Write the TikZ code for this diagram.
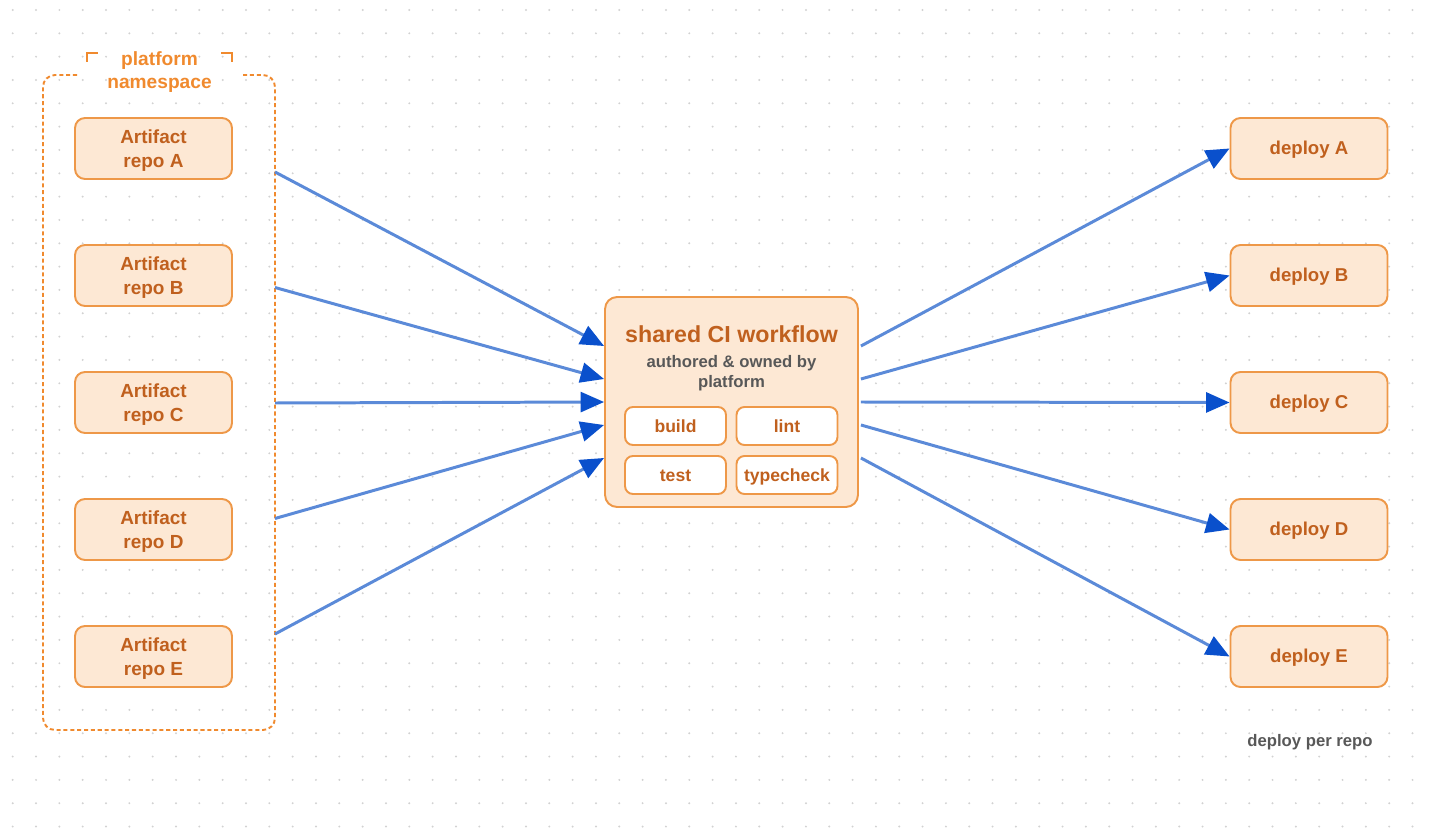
\documentclass[tikz,border=0pt]{standalone}
\usepackage{fontspec}
\setmainfont{Liberation Sans}
\usetikzlibrary{arrows.meta}
\definecolor{boxfill}{HTML}{FDE8D4}
\definecolor{boxline}{HTML}{EE9848}
\definecolor{boxtext}{HTML}{C0601E}
\definecolor{nsorange}{HTML}{F08A2E}
\definecolor{flowline}{HTML}{5B8AD8}
\definecolor{flowhead}{HTML}{0A50CC}
\definecolor{subgray}{HTML}{585858}
\definecolor{dotgray}{HTML}{D2D2D2}
\begin{document}
\begin{tikzpicture}[x=0.02cm,y=-0.02cm]
	\tikzset{
		every node/.style={font=\bfseries},
		% khung hop
		repo/.style={draw=boxline,fill=boxfill,line width=1.1pt,rounded corners=0.2cm,minimum width=3.14cm,minimum height=1.22cm,align=center,text=boxtext,text depth=0pt,font=\fontsize{10.8}{13.8}\selectfont\bfseries},
		%
		dep/.style={repo,text height=0.8em,text depth=0.1em,font=\fontsize{10.6}{13}\selectfont\bfseries},
		%
		ci/.style={repo,minimum width=5.06cm,minimum height=4.2cm,rounded corners=0.24cm},
		%
		job/.style={repo,fill=white,minimum width=2.02cm,minimum height=0.76cm,rounded corners=0.16cm,text height=0.8em,text depth=0.1em,font=\fontsize{10}{11}\selectfont\bfseries},
		% mui ten
		flow/.style={flowline,line width=1.7pt,-{Triangle[length=0.47cm,width=0.4cm,color=flowhead]}},
		%
		note/.style={text=subgray,align=center},
	}
	\useasboundingbox (0,0) rectangle (1430,831);
	% luoi cham
	\foreach \x in {0,...,61}
		\foreach \y in {0,...,35}
			\fill[dotgray] (12.7+23.33*\x,10+23.33*\y) circle (0.022cm);
	% namespace
	\draw[nsorange,line width=1.1pt,dashed,dash pattern=on 2.3pt off 1.6pt,rounded corners=0.24cm]
		(77,75)--(43,75)--(43,730)--(275,730)--(275,75)--(242,75);
	\draw[nsorange,line width=1.2pt] (87,62)--(87,53)--(98,53) (221,53)--(232,53)--(232,62);
	\node[text=nsorange,align=center,font=\fontsize{10.9}{13.5}\selectfont\bfseries] (nslabel) at (159.5,72) {platform\\namespace};
	%
	\foreach \l [count=\i from 0] in {A,B,C,D,E}{
		\node[repo] (repo\l) at (153.5,148.5+127*\i) {Artifact\\repo \l};
		\node[dep] (deploy\l) at (1309,148.5+127*\i) {deploy \l};
		\coordinate (ns\l) at (275,172+115.5*\i);
	}
	%
	\node[ci] (ci) at (731.5,402) {};
	\node[text=boxtext,font=\fontsize{13.2}{15}\selectfont\bfseries] (cititle) at (731.5,334) {shared CI workflow};
	\node[note,font=\fontsize{9.5}{11.6}\selectfont\bfseries] (cisub) at (731.5,373) {authored \& owned by\\platform};
	\node[job] (build) at (675.5,426) {build};
	\node[job] (lint) at (787,426) {lint};
	\node[job] (test) at (675.5,475) {test};
	\node[job] (typecheck) at (787,475) {typecheck};
	%
	\foreach \l/\s in {A/1.12,B/0.46,C/0,D/-0.46,E/-1.12}{
		\draw[flow] (ns\l)--([yshift=\s cm]ci.west);
		\draw[flow] ([xshift=0.04cm,yshift=\s cm]ci.east)--(deploy\l.west);
	}
	%
	\node[note,font=\fontsize{9.5}{12}\selectfont\bfseries] (perrepo) at (1310,742) {deploy per repo};
\end{tikzpicture}
\end{document}
